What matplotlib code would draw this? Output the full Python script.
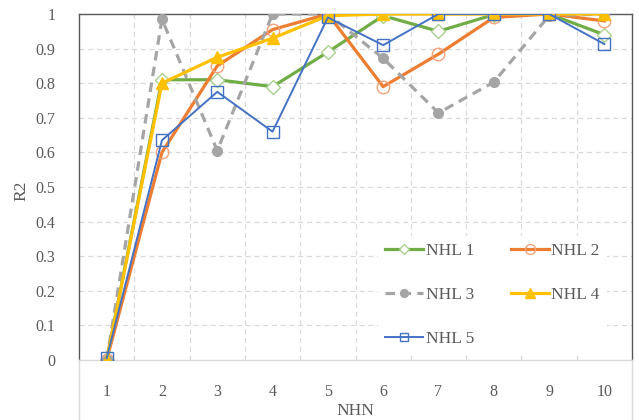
import matplotlib
matplotlib.use("Agg")
import matplotlib.pyplot as plt
from matplotlib.lines import Line2D
import numpy as np

nhn = [1, 2, 3, 4, 5, 6, 7, 8, 9, 10]
nhl1 = [0.0, 0.81, 0.81, 0.79, 0.89, 0.995, 0.95, 0.998, 1.0, 0.94]
nhl2 = [0.0, 0.60, 0.85, 0.955, 1.0, 0.79, 0.884, 0.99, 1.0, 0.98]
nhl3 = [0.0, 0.985, 0.605, 1.0, 1.0, 0.872, 0.714, 0.803, 0.995, 1.0]
nhl4 = [0.0, 0.80, 0.875, 0.93, 0.995, 1.0, 1.0, 1.0, 1.0, 1.0]
nhl5 = [0.005, 0.635, 0.775, 0.66, 0.99, 0.91, 1.0, 1.0, 1.0, 0.913]
labels = ["NHL 1", "NHL 2", "NHL 3", "NHL 4", "NHL 5"]
yticks = [0, 0.1, 0.2, 0.3, 0.4, 0.5, 0.6, 0.7, 0.8, 0.9, 1]
ytick_labels = ["0", "0.1", "0.2", "0.3", "0.4", "0.5", "0.6", "0.7", "0.8", "0.9", "1"]

plt.rcParams['font.family'] = ['Liberation Serif', 'DejaVu Serif']

fig = plt.figure(figsize=(6.39, 4.20), dpi=100)
ax = fig.add_axes([79/639, 1-360/420, (632-79)/639, (360-14)/420])

grid_c = '#D9D9D9'
for y in yticks[1:-1]:
    ax.axhline(y, color=grid_c, lw=0.9, ls=(0, (4, 3)), zorder=0)
for x in np.arange(1.5, 10.5, 1.0):
    ax.axvline(x, color=grid_c, lw=0.9, ls=(0, (4, 3)), zorder=0)

h1, = ax.plot(nhn, nhl1, color='#70AD47', lw=2.3, marker='D', ms=7, mfc='white',
              mec='#A9D18E', mew=1.0, label=labels[0], zorder=3)
h2, = ax.plot(nhn, nhl2, color='#ED7D31', lw=2.3, marker='o', ms=9, mfc='none',
              mec='#F4A27A', mew=1.0, label=labels[1], zorder=3)
h3, = ax.plot(nhn, nhl3, color='#A5A5A5', lw=2.3, ls=(0, (3, 2)), marker='o', ms=7,
              mfc='#A5A5A5', mec='#A5A5A5', label=labels[2], zorder=3)
h4, = ax.plot(nhn, nhl4, color='#FFC000', lw=2.3, marker='^', ms=9, mfc='#FFC000',
              mec='#FFC000', label=labels[3], zorder=3)
h5, = ax.plot(nhn, nhl5, color='#4472C4', lw=1.4, marker='s', ms=8, mfc='none',
              mec='#4472C4', mew=1.0, label=labels[4], zorder=3)

ax.set_xlim(0.5, 10.5)
ax.set_ylim(0, 1)
ax.set_xticks(nhn)
ax.set_xticklabels([str(v) for v in nhn])
ax.set_yticks(yticks)
ax.set_yticklabels(ytick_labels)
ax.tick_params(axis='both', length=0, labelsize=11.5, labelcolor='#595959')
ax.tick_params(axis='x', pad=17)
ax.tick_params(axis='y', pad=17)

for s in ['left', 'top', 'right']:
    ax.spines[s].set_color('#595959')
    ax.spines[s].set_linewidth(1.0)
ax.spines['bottom'].set_color(grid_c)
ax.spines['bottom'].set_linewidth(1.0)

xl = ax.set_xlabel('NHN', fontsize=12.5, color='#595959')
yl = ax.set_ylabel('R2', fontsize=12.5, color='#595959')
ax.xaxis.set_label_coords(0.5, -(411-360)/346)
xl.set_va('center')
ax.yaxis.set_label_coords((21-79)/553, 0.49)
yl.set_va('center')

fig.add_artist(Line2D([79/639, 79/639], [0, 1-360/420], color=grid_c, lw=1.0))
fig.add_artist(Line2D([632/639, 632/639], [0, 1-360/420], color=grid_c, lw=1.0))

# row-major order: NHL1 NHL2 / NHL3 NHL4 / NHL5
order = [h1, h3, h5, h2, h4]
leg = ax.legend(order, [h.get_label() for h in order], ncol=2, loc='upper left',
                bbox_to_anchor=(378/639, 1-236/420),
                bbox_transform=fig.transFigure, frameon=True, fontsize=12.5,
                handlelength=2.2, handletextpad=0.15, columnspacing=2.1,
                labelspacing=1.6, borderpad=0.4, borderaxespad=0, markerscale=0.8)
leg.get_frame().set_facecolor('white')
leg.get_frame().set_edgecolor('none')
leg.get_frame().set_alpha(1)
for t in leg.get_texts():
    t.set_color('#595959')

fig.savefig('out.png', dpi=100)
